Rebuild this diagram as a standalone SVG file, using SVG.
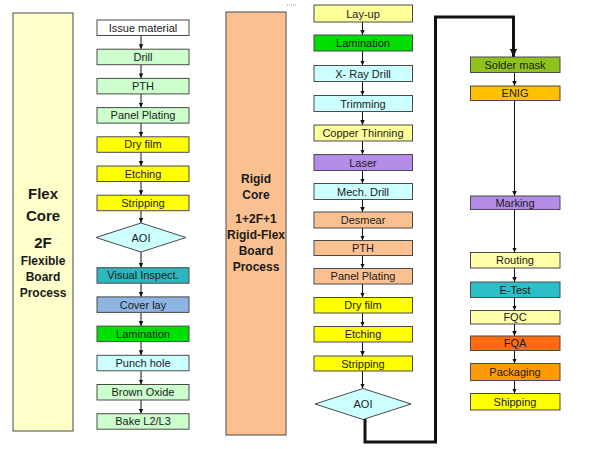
<svg xmlns="http://www.w3.org/2000/svg" width="600" height="449" viewBox="0 0 600 449">
<style>
.b{stroke:#4a4a4a;stroke-width:1}
.t{font-family:"Liberation Sans",Arial,sans-serif;font-size:11px;fill:#1a1a1a;text-anchor:middle}
.p{font-family:"Liberation Sans",Arial,sans-serif;font-weight:bold;fill:#1a1a1a;text-anchor:middle}
.c{stroke:#111;stroke-width:1;fill:none;marker-end:url(#a)}
.k{stroke:#111;stroke-width:3;fill:none;marker-end:url(#ak)}
</style>
<defs>
<marker id="a" viewBox="0 0 10 10" refX="10" refY="5" markerUnits="userSpaceOnUse" markerWidth="5" markerHeight="5" orient="auto"><path d="M0,0.5 L10,5 L0,9.5 z" fill="#111"/></marker>
<marker id="ak" viewBox="0 0 10 10" refX="10" refY="5" markerUnits="userSpaceOnUse" markerWidth="9" markerHeight="8" orient="auto"><path d="M0,0.5 L10,5 L0,9.5 z" fill="#111"/></marker>
</defs>
<rect width="600" height="449" fill="#fff"/>
<line x1="287" y1="5" x2="297" y2="5" stroke="#999" stroke-width="1" stroke-dasharray="1,1"/>

<g id="panel-flex">
<rect x="13" y="13" width="60" height="418" fill="#FFFFCC" class="b"/>
<text class="p" x="43" y="199" font-size="15">Flex</text>
<text class="p" x="43" y="221" font-size="15">Core</text>
<text class="p" x="43" y="248" font-size="15">2F</text>
<text class="p" x="43" y="265" font-size="12">Flexible</text>
<text class="p" x="43" y="281" font-size="12">Board</text>
<text class="p" x="43" y="297" font-size="12">Process</text>
</g>
<g id="panel-rigid">
<rect x="226" y="12" width="60" height="423" fill="#FAC090" class="b"/>
<text class="p" x="256" y="182.5" font-size="12">Rigid</text>
<text class="p" x="256" y="198.5" font-size="12">Core</text>
<text class="p" x="256" y="222.5" font-size="12">1+2F+1</text>
<text class="p" x="256" y="238.5" font-size="12">Rigid-Flex</text>
<text class="p" x="256" y="254.5" font-size="12">Board</text>
<text class="p" x="256" y="270.5" font-size="12">Process</text>
</g>

<g id="connectors">
<line class="c" x1="141" y1="35.5" x2="141" y2="49.2"/>
<line class="c" x1="141" y1="64.7" x2="141" y2="78.4"/>
<line class="c" x1="141" y1="93.9" x2="141" y2="107.6"/>
<line class="c" x1="141" y1="123.1" x2="141" y2="136.8"/>
<line class="c" x1="141" y1="152.3" x2="141" y2="166"/>
<line class="c" x1="141" y1="181.5" x2="141" y2="195.2"/>
<line class="c" x1="141" y1="210.7" x2="141" y2="223"/>
<line class="c" x1="141" y1="252" x2="141" y2="267.7"/>
<line class="c" x1="141" y1="283.2" x2="141" y2="296.9"/>
<line class="c" x1="141" y1="312.4" x2="141" y2="326.1"/>
<line class="c" x1="141" y1="341.6" x2="141" y2="355.3"/>
<line class="c" x1="141" y1="370.8" x2="141" y2="384.5"/>
<line class="c" x1="141" y1="400" x2="141" y2="413.7"/>

<line class="c" x1="362.5" y1="22" x2="362.5" y2="35"/>
<line class="c" x1="362.5" y1="51" x2="362.5" y2="65.5"/>
<line class="c" x1="362.5" y1="81.5" x2="362.5" y2="95.5"/>
<line class="c" x1="362.5" y1="111.5" x2="362.5" y2="125"/>
<line class="c" x1="362.5" y1="141" x2="362.5" y2="154.5"/>
<line class="c" x1="362.5" y1="170.5" x2="362.5" y2="183.5"/>
<line class="c" x1="362.5" y1="199.5" x2="362.5" y2="212"/>
<line class="c" x1="362.5" y1="228" x2="362.5" y2="240.5"/>
<line class="c" x1="362.5" y1="255.5" x2="362.5" y2="268.5"/>
<line class="c" x1="362.5" y1="284" x2="362.5" y2="297.5"/>
<line class="c" x1="362.5" y1="313" x2="362.5" y2="326.5"/>
<line class="c" x1="362.5" y1="342" x2="362.5" y2="356"/>
<line class="c" x1="362.5" y1="371" x2="362.5" y2="388.5"/>

<path class="k" d="M365,419 V442 H435.5 V17 H513.5 V57"/>

<line class="c" x1="514.5" y1="72.5" x2="514.5" y2="86"/>
<line class="c" x1="514.5" y1="100.5" x2="514.5" y2="196"/>
<line class="c" x1="514.5" y1="209.5" x2="514.5" y2="252.5"/>
<line class="c" x1="514.5" y1="268" x2="514.5" y2="282"/>
<line class="c" x1="514.5" y1="297.5" x2="514.5" y2="310.5"/>
<line class="c" x1="514.5" y1="324" x2="514.5" y2="336"/>
<line class="c" x1="514.5" y1="350.5" x2="514.5" y2="363.5"/>
<line class="c" x1="514.5" y1="380.5" x2="514.5" y2="393.5"/>
</g>

<!-- Left column -->
<g id="l-issue"><rect class="b" x="97" y="20" width="92" height="15.5" fill="#FFFFFF"/><text class="t" x="143" y="31.6">Issue material</text></g>
<g id="l-drill"><rect class="b" x="97" y="49.2" width="92" height="15.5" fill="#CCFFCC"/><text class="t" x="143" y="60.8">Drill</text></g>
<g id="l-pth"><rect class="b" x="97" y="78.4" width="92" height="15.5" fill="#CCFFCC"/><text class="t" x="143" y="90">PTH</text></g>
<g id="l-panel"><rect class="b" x="97" y="107.6" width="92" height="15.5" fill="#CCFFCC"/><text class="t" x="143" y="119.2">Panel Plating</text></g>
<g id="l-dry"><rect class="b" x="97" y="136.8" width="92" height="15.5" fill="#FFFF00"/><text class="t" x="143" y="148.4">Dry film</text></g>
<g id="l-etch"><rect class="b" x="97" y="166" width="92" height="15.5" fill="#FFFF00"/><text class="t" x="143" y="177.6">Etching</text></g>
<g id="l-strip"><rect class="b" x="97" y="195.2" width="92" height="15.5" fill="#FFFF00"/><text class="t" x="143" y="206.8">Stripping</text></g>
<g id="l-aoi"><polygon class="b" points="96,237.5 141,223 186,237.5 141,252" fill="#CCFFFF"/><text class="t" x="141" y="241.5">AOI</text></g>
<g id="l-visual"><rect class="b" x="97" y="267.7" width="92" height="15.5" fill="#2FB5BE"/><text class="t" x="143" y="279.3">Visual Inspect.</text></g>
<g id="l-cover"><rect class="b" x="97" y="296.9" width="92" height="15.5" fill="#8DB4E3"/><text class="t" x="143" y="308.5">Cover lay</text></g>
<g id="l-lam"><rect class="b" x="97" y="326.1" width="92" height="15.5" fill="#00E000"/><text class="t" x="143" y="337.7">Lamination</text></g>
<g id="l-punch"><rect class="b" x="97" y="355.3" width="92" height="15.5" fill="#CCFFFF"/><text class="t" x="143" y="366.9">Punch hole</text></g>
<g id="l-brown"><rect class="b" x="97" y="384.5" width="92" height="15.5" fill="#CCFFCC"/><text class="t" x="143" y="396.1">Brown Oxide</text></g>
<g id="l-bake"><rect class="b" x="97" y="413.7" width="92" height="15.5" fill="#CCFFCC"/><text class="t" x="143" y="425.3">Bake  L2/L3</text></g>

<!-- Middle column -->
<g id="m-layup"><rect class="b" x="314" y="5" width="98.5" height="17" fill="#FFFF99"/><text class="t" x="363" y="17.5">Lay-up</text></g>
<g id="m-lam"><rect class="b" x="314" y="35" width="98.5" height="16" fill="#00DD00"/><text class="t" x="363" y="47">Lamination</text></g>
<g id="m-xray"><rect class="b" x="314" y="65.5" width="98.5" height="16" fill="#CCFFFF"/><text class="t" x="363" y="77.5">X- Ray Drill</text></g>
<g id="m-trim"><rect class="b" x="314" y="95.5" width="98.5" height="16" fill="#CCFFFF"/><text class="t" x="363" y="107.5">Trimming</text></g>
<g id="m-copper"><rect class="b" x="314" y="125" width="98.5" height="16" fill="#FFFF99"/><text class="t" x="363" y="137">Copper Thinning</text></g>
<g id="m-laser"><rect class="b" x="314" y="154.5" width="98.5" height="16" fill="#B48CE8"/><text class="t" x="363" y="166.5">Laser</text></g>
<g id="m-mech"><rect class="b" x="314" y="183.5" width="98.5" height="16" fill="#CCFFFF"/><text class="t" x="363" y="195.5">Mech. Drill</text></g>
<g id="m-desmear"><rect class="b" x="314" y="212" width="98.5" height="16" fill="#FAC090"/><text class="t" x="363" y="224">Desmear</text></g>
<g id="m-pth"><rect class="b" x="314" y="240.5" width="98.5" height="15" fill="#FAC090"/><text class="t" x="363" y="252">PTH</text></g>
<g id="m-panel"><rect class="b" x="314" y="268.5" width="98.5" height="15.5" fill="#FAC090"/><text class="t" x="363" y="280.2">Panel Plating</text></g>
<g id="m-dry"><rect class="b" x="314" y="297.5" width="98.5" height="15.5" fill="#FFFF00"/><text class="t" x="363" y="309.2">Dry film</text></g>
<g id="m-etch"><rect class="b" x="314" y="326.5" width="98.5" height="15.5" fill="#FFFF00"/><text class="t" x="363" y="338.2">Etching</text></g>
<g id="m-strip"><rect class="b" x="314" y="356" width="98.5" height="15" fill="#FFFF00"/><text class="t" x="363" y="367.5">Stripping</text></g>
<g id="m-aoi"><polygon class="b" points="315,404 363,388.5 411,404 363,419.5" fill="#CCFFFF"/><text class="t" x="363" y="408">AOI</text></g>

<!-- Right column -->
<g id="r-solder"><rect class="b" x="470.5" y="57" width="89.5" height="15.5" fill="#8FC21C"/><text class="t" x="515" y="68.6">Solder mask</text></g>
<g id="r-enig"><rect class="b" x="470.5" y="86" width="89.5" height="14.5" fill="#FFC000"/><text class="t" x="515" y="97.2">ENIG</text></g>
<g id="r-marking"><rect class="b" x="470.5" y="196" width="89.5" height="13.5" fill="#B48CE8"/><text class="t" x="515" y="206.7">Marking</text></g>
<g id="r-routing"><rect class="b" x="470.5" y="252.5" width="89.5" height="15.5" fill="#FFFFAA"/><text class="t" x="515" y="264.2">Routing</text></g>
<g id="r-etest"><rect class="b" x="470.5" y="282" width="89.5" height="15.5" fill="#2DBFC7"/><text class="t" x="515" y="293.7">E-Test</text></g>
<g id="r-fqc"><rect class="b" x="470.5" y="310.5" width="89.5" height="13.5" fill="#FFFFAA"/><text class="t" x="515" y="321.2">FQC</text></g>
<g id="r-fqa"><rect class="b" x="470.5" y="336" width="89.5" height="14.5" fill="#FF6A10"/><text class="t" x="515" y="347.2">FQA</text></g>
<g id="r-pack"><rect class="b" x="470.5" y="363.5" width="89.5" height="17" fill="#FF9A00"/><text class="t" x="515" y="376">Packaging</text></g>
<g id="r-ship"><rect class="b" x="470.5" y="393.5" width="89.5" height="16.5" fill="#FFFF00"/><text class="t" x="515" y="405.7">Shipping</text></g>
</svg>
